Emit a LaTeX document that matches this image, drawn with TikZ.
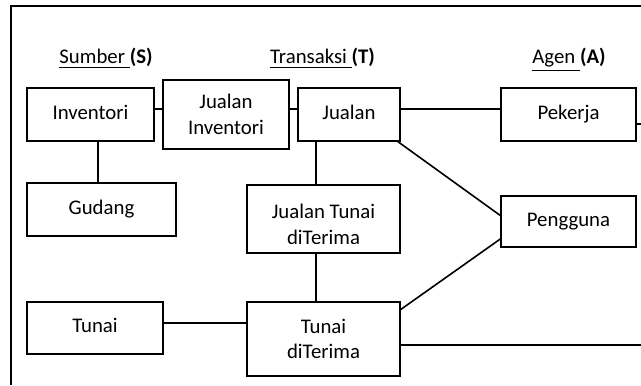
\documentclass[tikz,border=0pt]{standalone}
\usepackage{fontspec}
\setmainfont{Carlito}
\usetikzlibrary{positioning}

\begin{document}
\begin{tikzpicture}[x=0.5pt,y=-0.5pt,semithick,font=\fontsize{10.4}{12.7}\selectfont]
	  \tikzstyle{entity}=[rectangle,fill=white,draw=black,line width=0.9pt,text=black,align=center,inner sep=0pt,outer sep=0pt,minimum height=26.5pt]
	  \tikzstyle{oneline}=[text height=7.25pt,text depth=2.5pt]
	  \tikzstyle{heading}=[inner sep=0pt,anchor=base]
	  \tikzstyle{link}=[draw=black,line width=0.8pt]

	  \useasboundingbox (0,0) rectangle (641,385);
	  \coordinate (FL) at (11,385);
	  \coordinate (FC) at (11,6);
	  \coordinate (FR) at (641,6);
	  \draw[link] (FL) -- (FC) -- (FR);

	  \node[heading] (S) at (106,64) {\underline{Sumber\ }\textbf{(S)}};
	  \node[heading] (T) at (322.5,64) {\underline{Transaksi\ }\textbf{(T)}};
	  \node[heading] (A) at (569,64) {\underline{Agen\ }\textbf{(A)}};

	  \node[entity,oneline,minimum width=63.5pt] (Inv) at (90.5,114.5) {Inventori};
	  \node[entity,minimum width=63pt,minimum height=34.5pt] (JI) [right=4.5pt of Inv] {Jualan\\Inventori};
	  \node[entity,oneline,minimum width=51pt] (Jual) [right=4.5pt of JI] {Jualan};
	  \node[entity,oneline,minimum width=67.5pt] (Pek) [right=50.5pt of Jual] {Pekerja};
	  \node[entity,oneline,minimum width=74.5pt] (Gud) [below=21pt of Inv.south west,anchor=north west] {Gudang};
	  \node[entity,minimum width=76.5pt,minimum height=34pt] (JTD) at (323.5,219) {};
	  \node[entity,minimum width=76.5pt,minimum height=37pt] (TD) [below=24.5pt of JTD] {Tunai\\diTerima};
	  \node[entity,oneline,minimum width=68pt,minimum height=26pt] (Tun) at (95,328) {Tunai};
	  \node[entity,oneline,minimum width=67.5pt,minimum height=25.5pt] (Peng) [below=27.5pt of Pek] {Pengguna};

	  % text of JTD is cut off by the box
	  \begin{scope}
	    \clip (JTD.north west) rectangle ([yshift=5pt]JTD.south east);
	    \node[align=center,inner sep=0pt] (JTDtext) at ([yshift=-2.75pt]JTD.center) {Jualan Tunai\\diTerima};
	  \end{scope}

	  \coordinate (a1) at ([yshift=2.75pt]Inv.east);
	  \coordinate (a2) at ([yshift=2.75pt]JI.east);
	  \coordinate (a3) at ([yshift=2.75pt]Jual.east);
	  \coordinate (v1) at ([xshift=3.75pt]Inv.south);
	  \coordinate (v2) at ([xshift=-3.75pt]JTD.north);
	  \coordinate (t1) at ([yshift=2.5pt]Tun.east);
	  \coordinate (p1) at ([yshift=-4.75pt]Pek.east);
	  \coordinate (p2) at (641,124);
	  \coordinate (d1) at ([yshift=-3pt]TD.east);
	  \coordinate (d2) at (641,345);

	  \path[link]
	  (a1) edge (a1 -| JI.west)
	  (a2) edge (a2 -| Jual.west)
	  (a3) edge (a3 -| Pek.west)
	  (v1) edge (v1 |- Gud.north)
	  (v2) edge (v2 |- Jual.south)
	  (v2 |- JTD.south) edge (v2 |- TD.north)
	  (t1) edge (t1 -| TD.west)
	  ([xshift=-1.5pt]Jual.south east) edge ([yshift=2.75pt]Peng.west)
	  ([yshift=-4pt]TD.north east) edge ([yshift=4.25pt]Peng.south west)
	  (p1) edge (p2)
	  (d1) edge (d2)
	  ;
	\end{tikzpicture}
\end{document}
